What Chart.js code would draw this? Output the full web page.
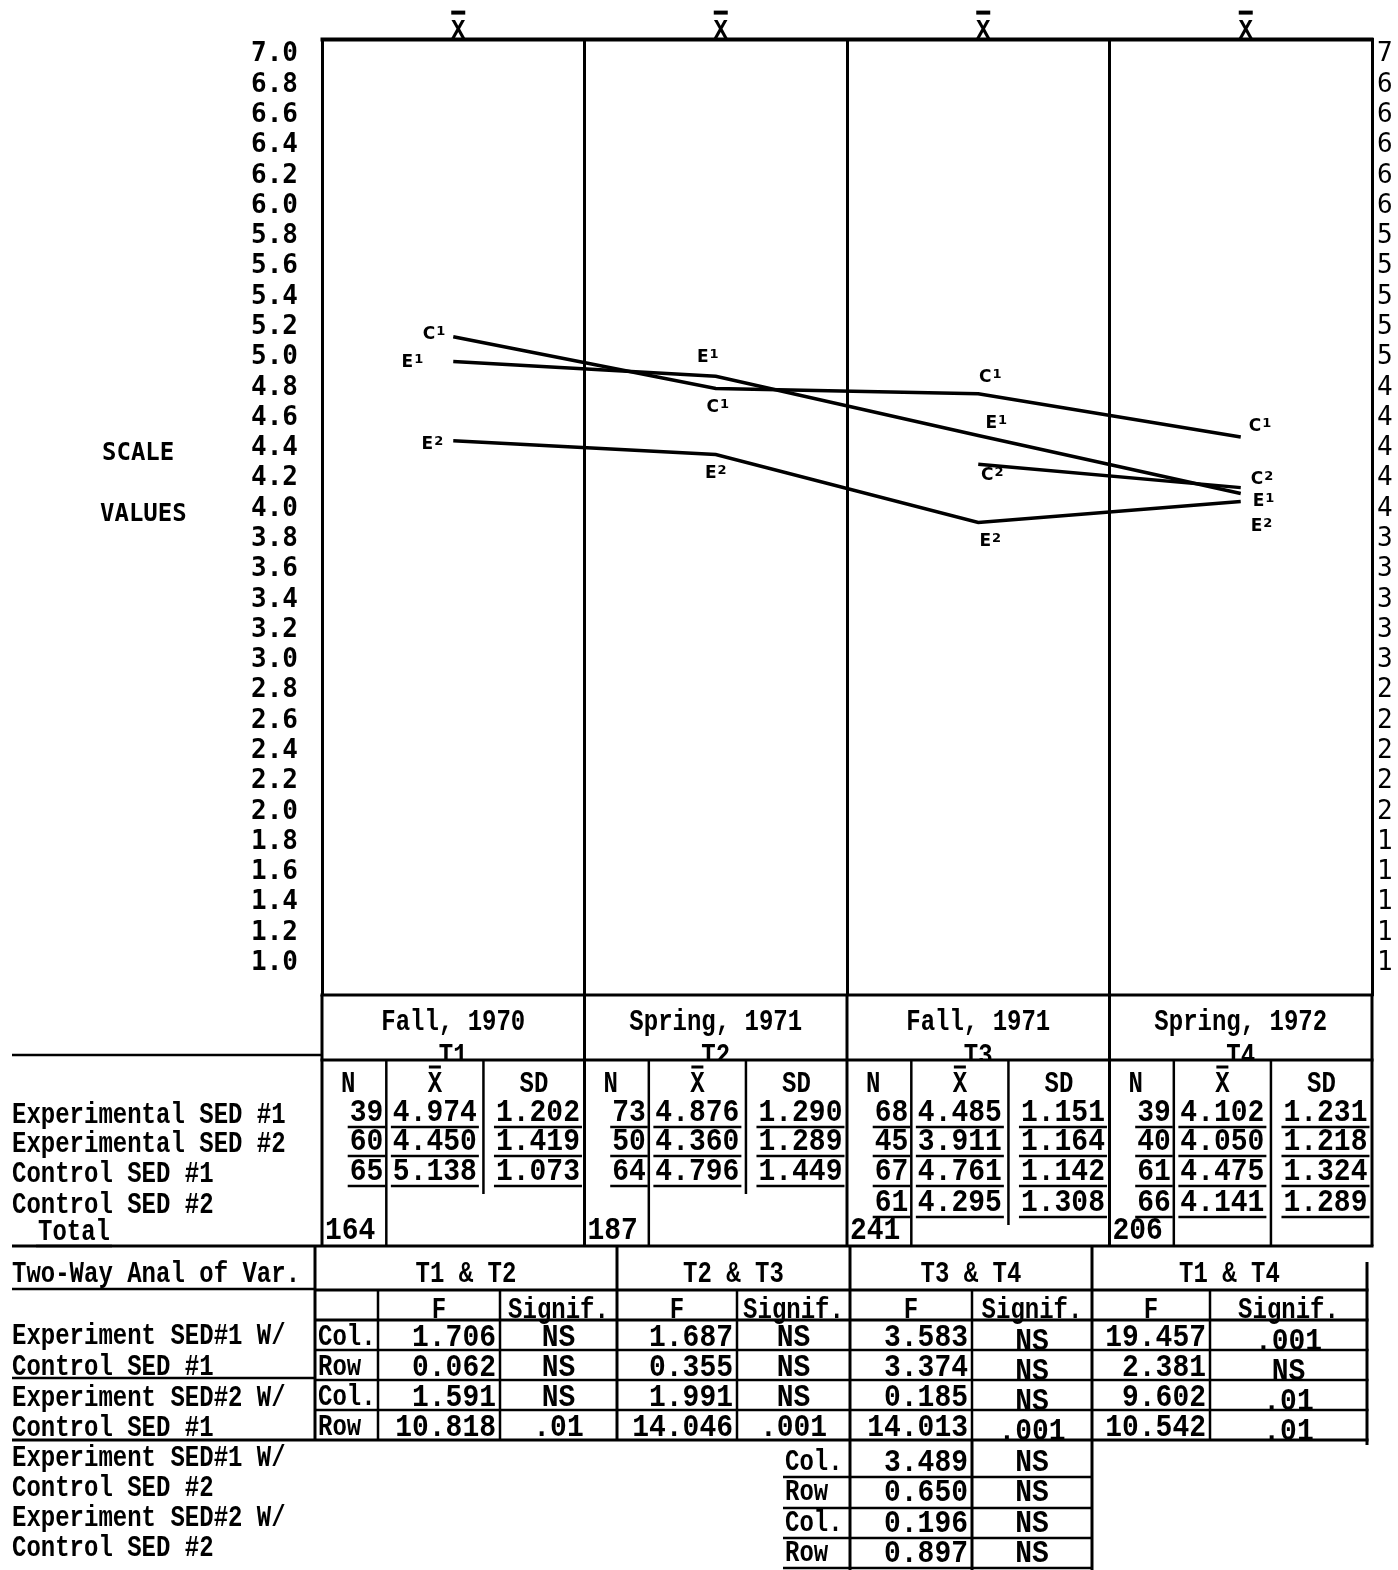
<!DOCTYPE html>
<html>
<head>
<meta charset="utf-8">
<script src="https://cdn.jsdelivr.net/npm/chart.js@4/dist/chart.umd.min.js"></script>
<style>
  html, body { margin: 0; padding: 0; background: #fff; }
  canvas { display: block; }
</style>
</head>
<body>
<canvas id="chart" width="1398" height="1570"></canvas>
<script>
// Test terms and scale ticks
const periods = ['Fall, 1970', 'Spring, 1971', 'Fall, 1971', 'Spring, 1972'];
const periodCodes = ['T1', 'T2', 'T3', 'T4'];
const scaleTicks = [7.0, 6.8, 6.6, 6.4, 6.2, 6.0, 5.8, 5.6, 5.4, 5.2, 5.0, 4.8, 4.6, 4.4, 4.2,
                    4.0, 3.8, 3.6, 3.4, 3.2, 3.0, 2.8, 2.6, 2.4, 2.2, 2.0, 1.8, 1.6, 1.4, 1.2, 1.0];

// Groups (rows of the summary table) and their short codes on the plot
const groups = ['Experimental SED #1', 'Experimental SED #2', 'Control SED #1', 'Control SED #2'];
const groupCodes = ['E1', 'E2', 'C1', 'C2'];

// N, mean and SD by term, one entry per group (null = group not tested that term)
const nT1 = [39, 60, 65, null];
const nT2 = [73, 50, 64, null];
const nT3 = [68, 45, 67, 61];
const nT4 = [39, 40, 61, 66];
const totalN = [164, 187, 241, 206];
const meanT1 = [4.974, 4.450, 5.138, null];
const meanT2 = [4.876, 4.360, 4.796, null];
const meanT3 = [4.485, 3.911, 4.761, 4.295];
const meanT4 = [4.102, 4.050, 4.475, 4.141];
const sdT1 = [1.202, 1.419, 1.073, null];
const sdT2 = [1.290, 1.289, 1.449, null];
const sdT3 = [1.151, 1.164, 1.142, 1.308];
const sdT4 = [1.231, 1.218, 1.324, 1.289];

// Two-way analysis of variance
const anovaPairs = ['T1 & T2', 'T2 & T3', 'T3 & T4', 'T1 & T4'];
const anovaComparisons = ['Experiment SED#1 W/', 'Control SED #1', 'Experiment SED#2 W/', 'Control SED #1',
                          'Experiment SED#1 W/', 'Control SED #2', 'Experiment SED#2 W/', 'Control SED #2'];
const anovaEffects = ['Col.', 'Row', 'Col.', 'Row'];
const fT1T2 = ['1.706', '0.062', '1.591', '10.818'];
const sigT1T2 = ['NS', 'NS', 'NS', '.01'];
const fT2T3 = ['1.687', '0.355', '1.991', '14.046'];
const sigT2T3 = ['NS', 'NS', 'NS', '.001'];
const fT3T4 = ['3.583', '3.374', '0.185', '14.013', '3.489', '0.650', '0.196', '0.897'];
const sigT3T4 = ['NS', 'NS', 'NS', '.001', 'NS', 'NS', 'NS', 'NS'];
const fT1T4 = ['19.457', '2.381', '9.602', '10.542'];
const sigT1T4 = ['.001', 'NS', '.01', '.01'];

const nByTerm = [nT1, nT2, nT3, nT4];
const meanByTerm = [meanT1, meanT2, meanT3, meanT4];
const sdByTerm = [sdT1, sdT2, sdT3, sdT4];
const fByPair = [fT1T2, fT2T3, fT3T4, fT1T4];
const sigByPair = [sigT1T2, sigT2T3, sigT3T4, sigT1T4];

// Where each hand-written series code sits relative to its point, per term
const codeOffsets = {
  E1: [[-30, 6, 'right'], [-8, -14, 'center'], [18, -8, 'center'], [12, 12, 'left']],
  E2: [[-10, 8, 'right'], [0, 24, 'center'], [12, 24, 'center'], [10, 30, 'left']],
  C1: [[-8, 2, 'right'], [2, 24, 'center'], [12, -12, 'center'], [8, -6, 'left']],
  C2: [null, null, [14, 16, 'center'], [10, -4, 'left']]
};

const TYPE = 'Liberation Mono';
const GOTHIC = 'DejaVu Sans Mono';

function hline(ctx, x1, x2, y, w) {
  ctx.save(); ctx.strokeStyle = '#000'; ctx.lineWidth = w || 3; ctx.lineCap = 'butt';
  ctx.beginPath(); ctx.moveTo(x1, y); ctx.lineTo(x2, y); ctx.stroke(); ctx.restore();
}
function vline(ctx, x, y1, y2, w) {
  ctx.save(); ctx.strokeStyle = '#000'; ctx.lineWidth = w || 3; ctx.lineCap = 'butt';
  ctx.beginPath(); ctx.moveTo(x, y1); ctx.lineTo(x, y2); ctx.stroke(); ctx.restore();
}
// Typewriter text, optionally stretched vertically and underlined
function type(ctx, s, x, y, o) {
  o = o || {};
  const size = o.size || 24, sy = o.sy || 1.25, align = o.align || 'left';
  ctx.save();
  ctx.font = `bold ${size}px "${o.family || TYPE}"`;
  ctx.fillStyle = '#000';
  ctx.textAlign = align;
  ctx.textBaseline = 'alphabetic';
  const w = ctx.measureText(s).width;
  ctx.translate(x, y);
  ctx.scale(1, sy);
  ctx.fillText(s, 0, 0);
  ctx.restore();
  if (o.underline) {
    const left = align === 'left' ? x : align === 'right' ? x - w : x - w / 2;
    hline(ctx, left - 2, left + w + 2, y + 6, 2.5);
  }
  return w;
}

const tablePlugin = {
  id: 'tablePlugin',
  afterDraw(chart) {
    const { ctx, chartArea: a, scales: { x, y } } = chart;
    const half = (x.getPixelForValue(1) - x.getPixelForValue(0)) / 2;
    const edges = periods.map((_, i) => x.getPixelForValue(i) - half);
    edges.push(x.getPixelForValue(periods.length - 1) + half);

    // frame top and bottom
    hline(ctx, a.left - 1.5, a.right + 1.5, a.top, 4);
    hline(ctx, edges[0] - 1.5, edges[4] + 1.5, a.bottom, 3);

    // X-bar above each term column
    periods.forEach((_, i) => {
      const cx = x.getPixelForValue(i) + 5;
      type(ctx, 'X', cx, a.top - 2, { family: GOTHIC, size: 24, sy: 1.05, align: 'center' });
      hline(ctx, cx - 7, cx + 7, a.top - 27, 4);
    });

    // side caption
    type(ctx, 'SCALE', 102, 460, { family: GOTHIC, size: 24, sy: 1.0 });
    type(ctx, 'VALUES', 100, 521, { family: GOTHIC, size: 24, sy: 1.0 });

    // series codes next to their points
    chart.data.datasets.forEach((ds, di) => {
      const meta = chart.getDatasetMeta(di);
      const offs = codeOffsets[ds.label];
      meta.data.forEach((pt, i) => {
        if (ds.data[i] == null || !offs[i]) return;
        const [dx, dy, align] = offs[i];
        const px = pt.x + dx, py = pt.y + dy;
        ctx.save();
        ctx.fillStyle = '#000';
        ctx.textBaseline = 'alphabetic';
        ctx.font = 'bold 17px "DejaVu Sans"';
        const letter = ds.label[0], digit = ds.label[1];
        const wl = ctx.measureText(letter).width;
        ctx.font = 'bold 13px "DejaVu Sans"';
        const wd = ctx.measureText(digit).width;
        const total = wl + wd + 1;
        let left = align === 'left' ? px : align === 'right' ? px - total : px - total / 2;
        ctx.font = 'bold 17px "DejaVu Sans"';
        ctx.textAlign = 'left';
        ctx.fillText(letter, left, py);
        ctx.font = 'bold 13px "DejaVu Sans"';
        ctx.fillText(digit, left + wl + 1, py - 4);
        ctx.restore();
      });
    });

    // ---------- summary table ----------
    const tBottom = 1246;
    edges.forEach(e => vline(ctx, e, a.bottom, tBottom, 3));
    hline(ctx, edges[0] - 1.5, edges[4] + 1.5, 1060, 3);
    hline(ctx, 12, edges[0], 1055, 2.5);
    const rowBase = [1121, 1150, 1180, 1211];

    groups.forEach((g, k) => type(ctx, g, 12, rowBase[k] + 2));
    type(ctx, 'Total', 38, 1240, { underline: true });

    periods.forEach((p, i) => {
      const l = edges[i], r = edges[i + 1], cw = r - l;
      type(ctx, p, (l + r) / 2, 1030, { align: 'center' });
      ctx.save();
      ctx.beginPath(); ctx.rect(l, a.bottom, cw, 1059 - a.bottom); ctx.clip();
      type(ctx, periodCodes[i], (l + r) / 2, 1064, { align: 'center' });
      ctx.restore();

      const dN = l + 0.245 * cw, dM = l + 0.615 * cw;
      const means = meanByTerm[i], sds = sdByTerm[i], ns = nByTerm[i];
      let last = 0;
      means.forEach((m, k) => { if (m != null) last = k; });
      vline(ctx, dN, 1060, tBottom, 2.5);
      vline(ctx, dM, 1060, i === 3 ? tBottom : rowBase[last] + 14, 2.5);

      type(ctx, 'N', (l + dN) / 2 - 6, 1092, { align: 'center' });
      const mx = (dN + dM) / 2, sx = (dM + r) / 2;
      type(ctx, 'X', mx, 1092, { align: 'center' });
      hline(ctx, mx - 6, mx + 6, 1067, 3);
      type(ctx, 'SD', sx, 1092, { align: 'center' });

      ns.forEach((n, k) => {
        if (n == null) return;
        type(ctx, String(n), dN - 3, rowBase[k], { size: 28, sy: 1.1, align: 'right', underline: true });
        type(ctx, means[k].toFixed(3), mx, rowBase[k], { size: 28, sy: 1.1, align: 'center', underline: true });
        type(ctx, sds[k].toFixed(3), sx + 4, rowBase[k], { size: 28, sy: 1.1, align: 'center', underline: true });
      });
      type(ctx, String(totalN[i]), l + 3, 1239, { size: 28, sy: 1.1 });
    });
    hline(ctx, 12, edges[4] + 1.5, tBottom, 3);

    // ---------- analysis of variance ----------
    const G = [315, 617, 850, 1092, 1367];
    const cols = [[378, 500, 617], [617, 737, 850], [850, 972, 1092], [1092, 1210, 1367]];
    const aRows = [1346, 1376, 1406, 1436];
    const xRows = [1471, 1501, 1532, 1562];

    type(ctx, 'Two-Way Anal of Var.', 12, 1282);
    hline(ctx, 12, G[0], 1289, 2.5);
    G.slice(0, 4).forEach(gx => vline(ctx, gx, tBottom, 1440, 3));
    vline(ctx, G[4], 1262, 1445, 3);
    [378, 500, 737, 972, 1210].forEach(sx => vline(ctx, sx, 1290, 1440, 2.5));
    hline(ctx, G[0], G[4] + 1.5, 1290, 3);
    hline(ctx, G[0], G[4] + 1.5, 1320, 3);
    [1350, 1380, 1410].forEach(yy => hline(ctx, G[0], G[4] + 1.5, yy, 2.5));
    hline(ctx, 12, G[4] + 1.5, 1440, 3);
    hline(ctx, 12, G[0], 1378, 2.5);

    anovaComparisons.forEach((c, k) => {
      const base = k < 4 ? [1344, 1375, 1406, 1436][k] : [1466, 1496, 1526, 1556][k - 4];
      type(ctx, c, 12, base);
    });

    anovaPairs.forEach((p, j) => {
      type(ctx, p, (G[j] + G[j + 1]) / 2, 1282, { align: 'center' });
      const [fl, fr, sr] = cols[j];
      type(ctx, 'F', (fl + fr) / 2, 1318, { align: 'center' });
      type(ctx, 'Signif.', (fr + sr) / 2, 1318, { align: 'center' });
      fByPair[j].forEach((f, k) => {
        const base = k < 4 ? aRows[k] : xRows[k - 4];
        type(ctx, f, fr - 4, base, { size: 28, sy: 1.1, align: 'right' });
        type(ctx, sigByPair[j][k], (fr + sr) / 2, base + (j >= 2 && k < 4 ? 4 : 0), { size: 28, sy: 1.1, align: 'center' });
      });
    });
    anovaEffects.forEach((e, k) => type(ctx, e, 318, aRows[k] - 1, { size: 24 }));

    // extra comparisons shown for T3 & T4 only
    [1477, 1508, 1538, 1568].forEach(yy => hline(ctx, 783, 1092, yy, 2.5));
    [850, 972, 1092].forEach(vx => vline(ctx, vx, 1440, 1570, 3));
    anovaEffects.forEach((e, k) => type(ctx, e, 785, xRows[k] - 1, { size: 24 }));
  }
};

const seriesFor = g => meanByTerm.map(m => m[g]);

new Chart(document.getElementById('chart'), {
  type: 'line',
  data: {
    labels: periods,
    datasets: groupCodes.map((code, g) => ({
      label: code,
      data: seriesFor(g),
      borderColor: '#000',
      borderWidth: 3.5,
      pointRadius: 0,
      tension: 0,
      fill: false,
      spanGaps: false
    }))
  },
  options: {
    responsive: false,
    animation: false,
    devicePixelRatio: 1,
    layout: { padding: { top: 35, bottom: 575, left: 0, right: 0 } },
    plugins: { legend: { display: false }, tooltip: { enabled: false } },
    scales: {
      x: {
        type: 'category',
        offset: true,
        afterFit(s) { s.height = 0; },
        grid: { offset: true, color: '#000', lineWidth: 3, drawTicks: false },
        border: { display: false },
        ticks: { display: false }
      },
      y: {
        position: 'left',
        min: 0.79,
        max: 7.1,
        afterFit(s) { s.width = 322; },
        afterBuildTicks(s) { s.ticks = scaleTicks.map(v => ({ value: v })); },
        grid: { display: false, drawTicks: false },
        border: { display: true, color: '#000', width: 3 },
        ticks: {
          autoSkip: false,
          padding: 24,
          color: '#000',
          font: { family: GOTHIC, weight: 'bold', size: 26 },
          callback: v => Number(v).toFixed(1)
        }
      },
      y2: {
        position: 'right',
        min: 0.79,
        max: 7.1,
        afterFit(s) { s.width = 26; },
        afterBuildTicks(s) { s.ticks = scaleTicks.map(v => ({ value: v })); },
        grid: { display: false, drawTicks: false },
        border: { display: true, color: '#000', width: 3 },
        ticks: {
          autoSkip: false,
          padding: 5,
          color: '#000',
          font: { family: GOTHIC, size: 26 },
          callback: v => Number(v).toFixed(1)
        }
      }
    }
  },
  plugins: [tablePlugin]
});
</script>
</body>
</html>
